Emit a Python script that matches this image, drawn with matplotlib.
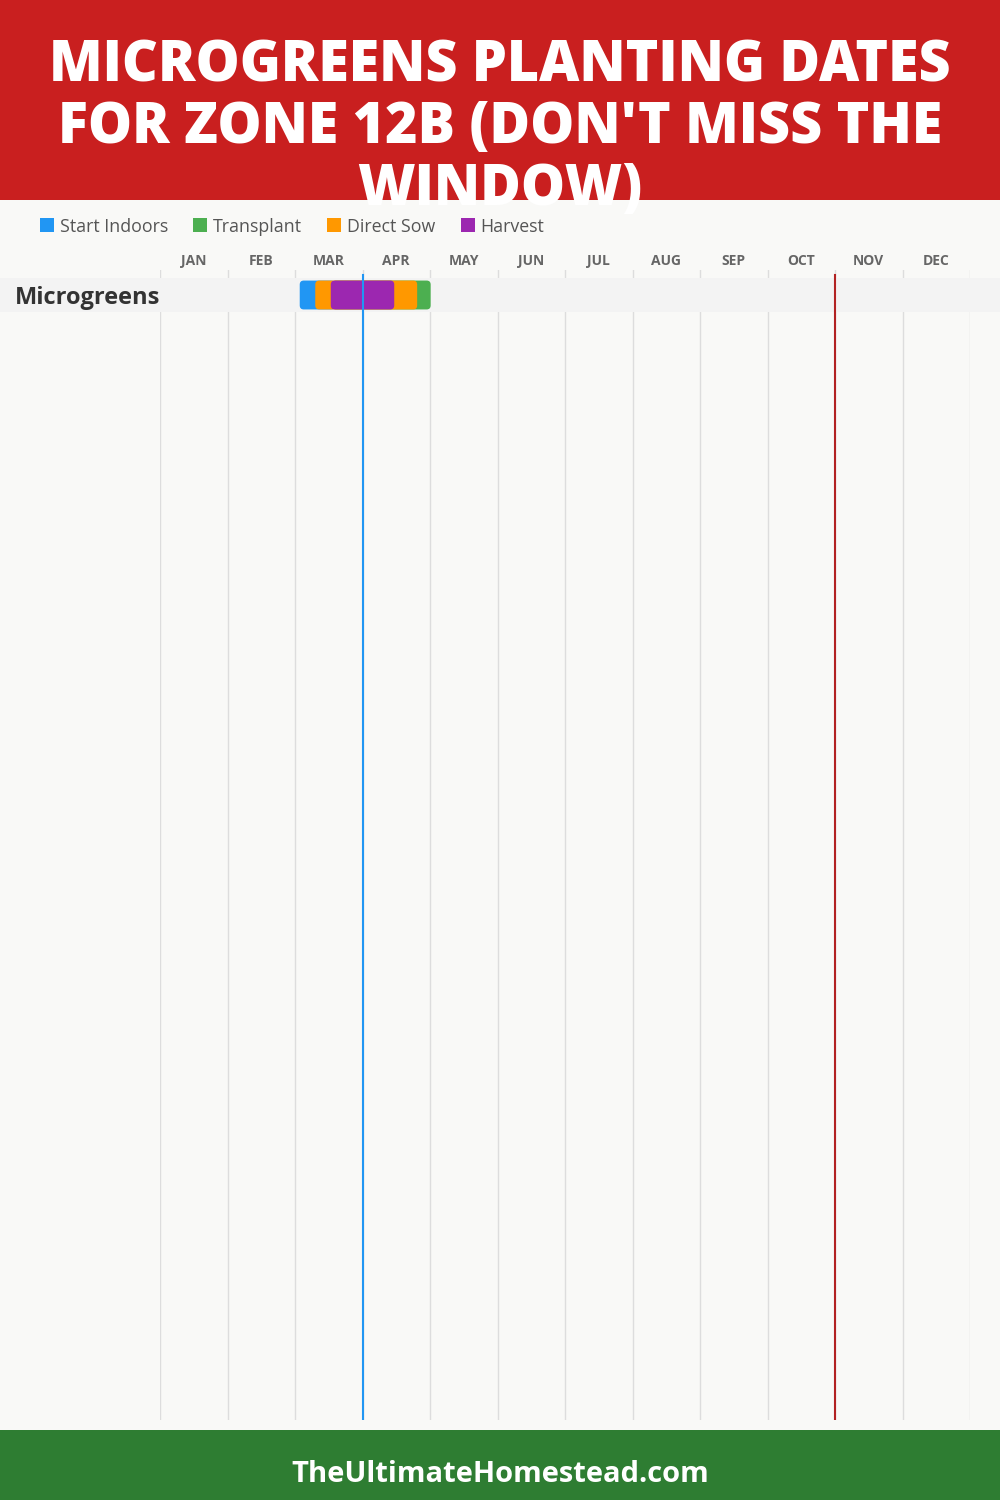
import matplotlib.pyplot as plt
from matplotlib.patches import FancyBboxPatch, Rectangle
from matplotlib.transforms import blended_transform_factory

# data
months = ["JAN", "FEB", "MAR", "APR", "MAY", "JUN",
          "JUL", "AUG", "SEP", "OCT", "NOV", "DEC"]
crops = ["Microgreens"]
# (stage, start month-fraction, end month-fraction) drawn in this order
stage_names = ["Start Indoors", "Transplant", "Direct Sow", "Harvest"]
stage_colors = ["#2196F3", "#4CAF50", "#FF9800", "#9C27B0"]
stage_start = [2.07, 2.55, 2.30, 2.53]
stage_end = [2.60, 4.01, 3.81, 3.47]
last_frost = 3.0   # Apr 1
first_frost = 10.0  # Nov 1

title_lines = ["MICROGREENS PLANTING DATES",
               "FOR ZONE 12B (DON'T MISS THE",
               "WINDOW)"]
footer = "TheUltimateHomestead.com"

W, H = 1000, 1500
fig = plt.figure(figsize=(10, 15), dpi=100, facecolor="#f9f9f7")

# header / footer blocks
fig.patches.append(Rectangle((0, 1 - 200 / H), 1, 200 / H, transform=fig.transFigure,
                             facecolor="#c91f1f", edgecolor="none", zorder=0))
fig.patches.append(Rectangle((0, 0), 1, 70 / H, transform=fig.transFigure,
                             facecolor="#2e7d32", edgecolor="none", zorder=0))

for i, line in enumerate(title_lines):
    fig.text(0.5, 1 - (67 + 62 * i) / H, line, ha="center", va="center",
             color="white", fontsize=40, fontweight="heavy", family="Open Sans",
             zorder=10)
fig.text(0.5, 1 - 1474 / H, footer, ha="center", va="center", color="white",
         fontsize=21, fontweight="bold", family="Open Sans")

# legend
lx = 40
for name, col in zip(stage_names, stage_colors):
    fig.patches.append(Rectangle((lx / W, 1 - 232 / H), 14 / W, 14 / H,
                                 transform=fig.transFigure, facecolor=col,
                                 edgecolor="none"))
    t = fig.text((lx + 20) / W, 1 - 227 / H, name, ha="left", va="center",
                 color="#555555", fontsize=12.8, family="Open Sans")
    fig.canvas.draw()
    bb = t.get_window_extent()
    lx = bb.x1 + 25

# chart axes
x0, x1, y0, y1 = 160, 970, 270, 1420
ax = fig.add_axes([x0 / W, 1 - y1 / H, (x1 - x0) / W, (y1 - y0) / H])
ax.set_facecolor("none")
row_h = 34
ax.set_xlim(0, 12)
top = -25 / row_h
ax.set_ylim((y1 - y0) / row_h + top, top)
ax.axis("off")

for m in range(13):
    ax.axvline(m, color="#dddddd", lw=1, zorder=1)
for m, lab in enumerate(months):
    ax.text(m + 0.5, 1 + 9 / (y1 - y0), lab, transform=ax.get_xaxis_transform(),
            ha="center", va="center", fontsize=10, fontweight="bold",
            color="#666666", family="Open Sans")

band_tr = blended_transform_factory(fig.transFigure, ax.transData)
aspect = (67.5 / row_h)
for r, crop in enumerate(crops):
    ax.add_patch(Rectangle((0, r - 0.5), 1, 1, transform=band_tr,
                           facecolor="#f3f3f3", edgecolor="none", zorder=2,
                           clip_on=False))
    fig.text(15 / W, 1 - (y0 + 28 + r * row_h) / H, crop, ha="left",
             va="center", fontsize=17, fontweight="bold", color="#333333",
             family="Open Sans")
    for s, e, col in zip(stage_start, stage_end, stage_colors):
        ax.add_patch(FancyBboxPatch((s, r - 0.425), e - s, 0.85,
                                    boxstyle="round,pad=0,rounding_size=0.06",
                                    mutation_aspect=aspect, facecolor=col,
                                    edgecolor="none", zorder=3))

ax.axvline(last_frost, ymax=1 - 5 / (y1 - y0), color="#2196F3", lw=1.5, zorder=4)
ax.axvline(first_frost, ymax=1 - 5 / (y1 - y0), color="#b22222", lw=1.5, zorder=4)

fig.savefig("out.png", dpi=100, facecolor=fig.get_facecolor())
